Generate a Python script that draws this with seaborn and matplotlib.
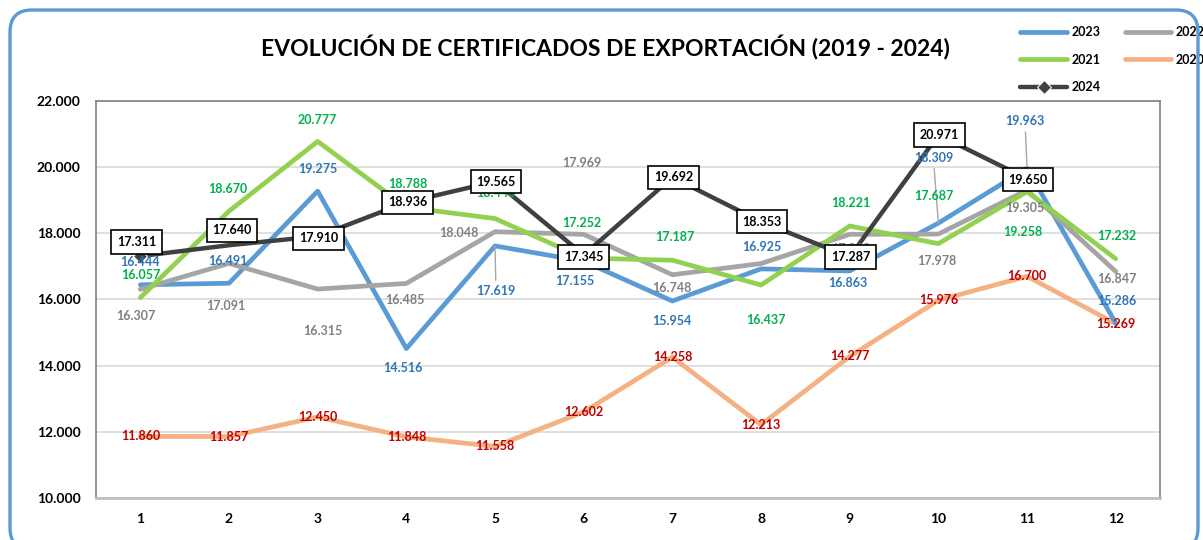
import matplotlib.pyplot as plt
import seaborn as sns
import pandas as pd
from matplotlib.patches import FancyBboxPatch
from matplotlib.ticker import FuncFormatter

# datos (certificados por mes)
meses = list(range(1, 13))
v2023 = [16444, 16491, 19275, 14516, 17619, 17155, 15954, 16925, 16863, 18309, 19963, 15286]
v2022 = [16307, 17091, 16315, 16485, 18048, 17969, 16748, 17086, 17969, 17978, 19305, 16847]
v2021 = [16057, 18670, 20777, 18788, 18446, 17252, 17187, 16437, 18221, 17687, 19258, 17232]
v2020 = [11860, 11857, 12450, 11848, 11558, 12602, 14258, 12213, 14277, 15976, 16700, 15269]
v2024 = [17311, 17640, 17910, 18936, 19565, 17345, 19692, 18353, 17287, 20971, 19650]

titulo = "EVOLUCIÓN DE CERTIFICADOS DE EXPORTACIÓN (2019 - 2024)"

# desplazamiento de etiquetas en pixeles (dx, dy)
off2023 = [(0, 23), (-1, 22), (0, 22), (-4, -19), (1, -45), (-9, -20), (-1, -20), (1, 22), (-2, -12), (-5, 65), (-2, 47), (1, 22)]
off2022 = [(-5, -27), (-3, -43), (5, -42), (-2, -17), (-36, -1), (-2, 71), (-1, -13), (1, 47), (1, -15), (-2, -27), (-2, -18), (1, -8)]
off2021 = [(0, 23), (-1, 22), (0, 21), (1, 23), (1, 26), (-2, 35), (2, 23), (5, -35), (1, 23), (-5, 48), (-4, -40), (1, 23)]
off2020 = [(0, 0)] * 12
off2024 = [(-4, 14), (3, 15), (1, -2), (1, 0), (1, 0), (0, -2), (1, 0), (1, 0), (1, 0), (1, 0), (1, -1)]

sns.set_style("white")
plt.rcParams['font.family'] = ['Lato', 'DejaVu Sans']
plt.rcParams['text.color'] = 'black'
plt.rcParams['xtick.color'] = 'black'
plt.rcParams['ytick.color'] = 'black'

fig = plt.figure(figsize=(12.03, 5.4), dpi=100)
ax = fig.add_axes([0.0798, 0.0778, 0.8845, 0.7352])

series = [
    ("2020", v2020, "#F4B183"),
    ("2023", v2023, "#5B9BD5"),
    ("2022", v2022, "#A5A5A5"),
    ("2021", v2021, "#92D050"),
    ("2024", v2024, "#404040"),
]
lineas = {}
for nombre, valores, color in series:
    sns.lineplot(x=meses[:len(valores)], y=valores, ax=ax, color=color, linewidth=3.4, label=nombre)
    lineas[nombre] = ax.lines[-1]
lineas["2024"].set_linewidth(3.2)
lineas["2024"].set_marker("D")
lineas["2024"].set_markersize(7)
lineas["2024"].set_markevery([0])


def etiquetas(valores, offsets, color, caja=False, lider=()):
    for i, (v, (dx, dy)) in enumerate(zip(valores, offsets)):
        texto = f"{v:,}".replace(",", ".")
        kw = {}
        if caja:
            kw["bbox"] = dict(boxstyle="square,pad=0.45", fc="white", ec="black", lw=1.2)
        if i in lider:
            kw["arrowprops"] = dict(arrowstyle="-", color="#A6A6A6", lw=1, shrinkA=1, shrinkB=0)
        ax.annotate(texto, xy=(meses[i], v), xytext=(dx, dy), textcoords="offset pixels",
                    ha="center", va="center", fontsize=9, fontweight="bold", color=color,
                    zorder=7 if caja else 6, **kw)


etiquetas(v2023, off2023, "#2E75B6", lider=(4, 9, 10))
etiquetas(v2022, off2022, "#808080")
etiquetas(v2021, off2021, "#00B050")
etiquetas(v2020, off2020, "#C00000")
etiquetas(v2024, off2024, "black", caja=True)

ax.set_xlim(0.5, 12.5)
ax.set_ylim(10000, 22000)
ax.set_xticks(meses)
ax.set_yticks(range(10000, 22001, 2000))
ax.yaxis.set_major_formatter(FuncFormatter(lambda v, p: f"{v:,.0f}".replace(",", ".")))
ax.tick_params(length=0, labelsize=10, pad=11)
for lab in ax.get_xticklabels() + ax.get_yticklabels():
    lab.set_fontweight("bold")
ax.grid(axis="y", color="#D9D9D9", lw=1.2)
ax.set_xlabel("")
ax.set_ylabel("")
for lado in ["left", "top", "right"]:
    ax.spines[lado].set_color("#7F7F7F")
    ax.spines[lado].set_linewidth(1.2)
ax.spines["bottom"].set_color("#BFBFBF")
ax.spines["bottom"].set_linewidth(2)

orden = ["2023", "2021", "2024", "2022", "2020"]
ax.legend([lineas[n] for n in orden], orden, ncol=2, loc="upper left",
          bbox_to_anchor=(0.843, 0.963), bbox_transform=fig.transFigure,
          frameon=False, borderpad=0, handlelength=3.7, handletextpad=0.4,
          columnspacing=1.9, labelspacing=1.25, prop=dict(size=9, weight="bold"))

fig.text(0.503, 0.911, titulo, ha="center", va="center", fontsize=16.5, fontweight="bold")

# borde redondeado azul
borde = FancyBboxPatch((10, -10), 1188, 540, boxstyle="round,pad=0,rounding_size=22",
                       fc="none", ec="#5B9BD5", lw=2.4, transform=None)
fig.patches.append(borde)

fig.savefig("out.png", dpi=100)
